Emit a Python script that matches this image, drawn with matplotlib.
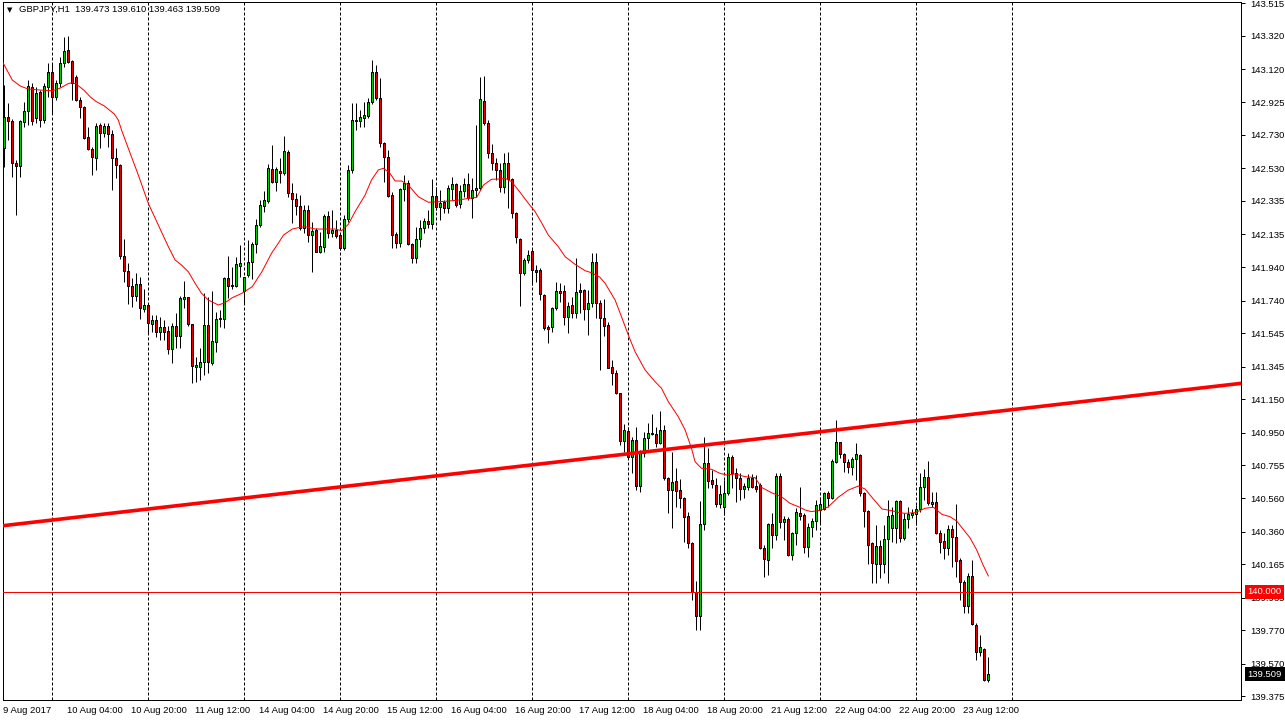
import numpy as np
import pandas as pd
import matplotlib
matplotlib.use('Agg')
import matplotlib.pyplot as plt
from matplotlib.transforms import ScaledTranslation

plt.rcParams['font.family'] = ['Liberation Sans', 'DejaVu Sans']

symbol = 'GBPJPY,H1'
first_bar = '2017-08-09 12:00'

# hourly OHLC
opens = [142.649, 142.834, 142.812, 142.561, 142.545, 142.806, 142.872, 143.015, 142.832, 142.984,
         142.818, 143.017, 143.103, 142.954, 143.037, 143.157, 143.236, 143.171, 143.073, 142.938,
         142.898, 142.719, 142.643, 142.589, 142.788, 142.739, 142.782, 142.733, 142.589, 142.548,
         142.006, 141.918, 141.827, 141.769, 141.839, 141.688, 141.713, 141.598, 141.624, 141.554,
         141.580, 141.560, 141.449, 141.588, 141.530, 141.749, 141.763, 141.598, 141.345, 141.345,
         141.371, 141.594, 141.365, 141.494, 141.628, 141.628, 141.876, 141.833, 141.829, 141.948,
         141.799, 141.893, 141.968, 142.076, 142.191, 142.306, 142.336, 142.524, 142.450, 142.515,
         142.500, 142.625, 142.380, 142.345, 142.306, 142.171, 142.281, 142.131, 142.161, 142.032,
         142.062, 142.245, 142.145, 142.161, 142.131, 142.056, 142.227, 142.520, 142.812, 142.814,
         142.832, 142.844, 142.924, 143.107, 142.952, 142.679, 142.599, 142.370, 142.137, 142.085,
         142.406, 142.440, 142.076, 141.996, 142.106, 142.175, 142.217, 142.195, 142.364, 142.297,
         142.330, 142.291, 142.404, 142.434, 142.315, 142.394, 142.434, 142.354, 142.400, 142.411,
         142.932, 142.798, 142.619, 142.563, 142.520, 142.416, 142.560, 142.464, 142.261, 142.106,
         141.903, 141.982, 142.036, 141.922, 141.922, 141.773, 141.580, 141.580, 141.694, 141.797,
         141.797, 141.644, 141.713, 141.667, 141.803, 141.803, 141.688, 141.723, 141.968, 141.723,
         141.634, 141.594, 141.341, 141.305, 141.186, 140.903, 140.961, 140.807, 140.905, 140.634,
         140.831, 140.917, 140.941, 140.943, 140.891, 140.965, 140.678, 140.608, 140.662, 140.608,
         140.559, 140.453, 140.290, 140.001, 139.857, 140.403, 140.768, 140.668, 140.638, 140.525,
         140.505, 140.589, 140.804, 140.708, 140.682, 140.612, 140.628, 140.682, 140.632, 140.638,
         140.264, 140.190, 140.403, 140.339, 140.694, 140.415, 140.435, 140.220, 140.350, 140.469,
         140.459, 140.266, 140.385, 140.423, 140.489, 140.495, 140.589, 140.559, 140.777, 140.893,
         140.822, 140.777, 140.747, 140.792, 140.818, 140.589, 140.483, 140.290, 140.166, 140.274,
         140.166, 140.316, 140.379, 140.379, 140.543, 140.320, 140.433, 140.457, 140.463, 140.493,
         140.624, 140.684, 140.523, 140.535, 140.350, 140.304, 140.260, 140.375, 140.326, 140.190,
         140.057, 139.915, 140.095, 139.802, 139.642, 139.657, 139.473]
highs = [143.027, 142.920, 142.824, 142.579, 142.818, 142.928, 143.057, 143.039, 143.017, 142.997,
         143.039, 143.157, 143.157, 143.057, 143.196, 143.316, 143.320, 143.177, 143.087, 142.957,
         142.902, 142.778, 142.659, 142.798, 142.802, 142.798, 142.802, 142.759, 142.649, 142.554,
         142.106, 141.962, 141.876, 141.903, 141.882, 141.807, 141.713, 141.654, 141.654, 141.644,
         141.624, 141.588, 141.604, 141.664, 141.767, 141.856, 141.763, 141.598, 141.405, 141.455,
         141.783, 141.763, 141.797, 141.673, 141.683, 141.882, 142.006, 141.942, 142.002, 142.072,
         141.882, 142.101, 142.091, 142.225, 142.340, 142.394, 142.554, 142.669, 142.539, 142.589,
         142.723, 142.639, 142.440, 142.380, 142.370, 142.310, 142.310, 142.211, 142.171, 142.151,
         142.255, 142.275, 142.281, 142.221, 142.142, 142.251, 142.549, 142.918, 142.918, 142.878,
         142.928, 142.952, 143.177, 143.147, 143.071, 142.689, 142.639, 142.390, 142.149, 142.411,
         142.490, 142.460, 142.082, 142.181, 142.221, 142.231, 142.281, 142.464, 142.420, 142.400,
         142.340, 142.430, 142.476, 142.440, 142.430, 142.470, 142.500, 142.470, 142.788, 143.077,
         143.081, 142.818, 142.675, 142.589, 142.560, 142.619, 142.629, 142.470, 142.271, 142.112,
         141.992, 142.042, 142.052, 141.952, 141.932, 141.777, 141.594, 141.703, 141.852, 141.843,
         141.833, 141.733, 141.763, 141.992, 141.843, 141.807, 141.803, 142.022, 142.022, 141.743,
         141.747, 141.614, 141.385, 141.325, 141.190, 141.002, 140.986, 140.927, 140.986, 140.847,
         140.957, 141.010, 141.060, 140.986, 141.080, 140.996, 140.688, 140.837, 140.738, 140.672,
         140.565, 140.479, 140.300, 140.065, 140.543, 140.927, 140.857, 140.728, 140.678, 140.638,
         140.668, 140.827, 140.817, 140.738, 140.708, 140.652, 140.702, 140.702, 140.698, 140.648,
         140.280, 140.409, 140.469, 140.708, 140.708, 140.453, 140.449, 140.359, 140.499, 140.624,
         140.469, 140.409, 140.439, 140.549, 140.568, 140.598, 140.602, 140.792, 141.026, 140.897,
         140.827, 140.792, 140.807, 140.887, 140.823, 140.598, 140.489, 140.300, 140.399, 140.310,
         140.399, 140.549, 140.508, 140.549, 140.549, 140.469, 140.508, 140.493, 140.519, 140.712,
         140.732, 140.781, 140.598, 140.598, 140.369, 140.350, 140.399, 140.399, 140.523, 140.200,
         140.071, 140.111, 140.190, 139.812, 139.742, 139.663, 139.610]
lows = [142.539, 142.699, 142.478, 142.251, 142.478, 142.778, 142.788, 142.788, 142.800, 142.778,
        142.800, 142.957, 142.860, 142.938, 143.017, 143.137, 143.159, 142.938, 142.932, 142.828,
        142.703, 142.639, 142.490, 142.520, 142.649, 142.719, 142.659, 142.400, 142.470, 141.986,
        141.852, 141.719, 141.700, 141.739, 141.630, 141.672, 141.544, 141.554, 141.524, 141.504,
        141.504, 141.421, 141.365, 141.455, 141.455, 141.694, 141.588, 141.246, 141.255, 141.265,
        141.295, 141.305, 141.355, 141.435, 141.583, 141.574, 141.753, 141.807, 141.823, 141.882,
        141.723, 141.882, 141.867, 142.022, 142.181, 142.271, 142.324, 142.440, 142.396, 142.440,
        142.490, 142.360, 142.201, 142.251, 142.161, 142.142, 142.091, 141.912, 142.032, 142.022,
        142.032, 142.112, 142.121, 142.112, 142.042, 142.042, 142.211, 142.500, 142.759, 142.778,
        142.778, 142.832, 142.912, 142.938, 142.659, 142.450, 142.360, 142.052, 142.052, 142.062,
        142.336, 142.072, 141.966, 141.962, 142.062, 142.142, 142.171, 142.165, 142.281, 142.221,
        142.261, 142.261, 142.340, 142.300, 142.291, 142.360, 142.340, 142.235, 142.360, 142.400,
        142.788, 142.589, 142.520, 142.460, 142.390, 142.380, 142.291, 142.231, 142.082, 141.707,
        141.893, 141.962, 141.833, 141.852, 141.743, 141.564, 141.488, 141.554, 141.683, 141.733,
        141.594, 141.544, 141.634, 141.634, 141.664, 141.624, 141.534, 141.703, 141.634, 141.325,
        141.528, 141.335, 141.236, 141.182, 140.877, 140.837, 140.804, 140.708, 140.608, 140.598,
        140.807, 140.853, 140.937, 140.867, 140.883, 140.668, 140.469, 140.383, 140.508, 140.499,
        140.300, 140.264, 139.951, 139.772, 139.772, 140.369, 140.618, 140.618, 140.508, 140.499,
        140.459, 140.578, 140.618, 140.538, 140.549, 140.559, 140.608, 140.618, 140.598, 140.254,
        140.090, 140.101, 140.260, 140.310, 140.379, 140.310, 140.214, 140.190, 140.280, 140.429,
        140.230, 140.210, 140.329, 140.369, 140.409, 140.489, 140.508, 140.553, 140.768, 140.798,
        140.718, 140.708, 140.698, 140.668, 140.572, 140.389, 140.166, 140.055, 140.051, 140.081,
        140.111, 140.051, 140.300, 140.290, 140.300, 140.310, 140.379, 140.441, 140.399, 140.479,
        140.549, 140.519, 140.508, 140.345, 140.230, 140.194, 140.220, 140.150, 140.090, 139.951,
        139.872, 139.872, 139.802, 139.593, 139.617, 139.469, 139.463]
closes = [142.834, 142.814, 142.561, 142.544, 142.812, 142.872, 143.021, 142.814, 142.978, 142.818,
          143.021, 143.103, 142.954, 143.037, 143.157, 143.232, 143.167, 143.037, 142.938, 142.898,
          142.709, 142.643, 142.595, 142.782, 142.739, 142.782, 142.733, 142.589, 142.548, 142.006,
          141.918, 141.827, 141.769, 141.839, 141.694, 141.713, 141.604, 141.624, 141.554, 141.580,
          141.554, 141.449, 141.588, 141.530, 141.753, 141.763, 141.598, 141.351, 141.353, 141.371,
          141.594, 141.371, 141.498, 141.628, 141.634, 141.876, 141.829, 141.829, 141.958, 141.962,
          141.882, 141.968, 142.076, 142.191, 142.310, 142.340, 142.530, 142.450, 142.524, 142.500,
          142.631, 142.380, 142.345, 142.306, 142.171, 142.281, 142.131, 142.155, 142.032, 142.066,
          142.245, 142.145, 142.161, 142.127, 142.056, 142.227, 142.520, 142.818, 142.818, 142.838,
          142.848, 142.924, 143.103, 142.952, 142.679, 142.599, 142.366, 142.131, 142.085, 142.406,
          142.440, 142.076, 141.996, 142.106, 142.175, 142.217, 142.195, 142.364, 142.300, 142.324,
          142.291, 142.411, 142.434, 142.310, 142.394, 142.434, 142.354, 142.400, 142.414, 142.942,
          142.798, 142.619, 142.563, 142.520, 142.416, 142.560, 142.464, 142.261, 142.118, 141.903,
          141.982, 142.012, 141.922, 141.912, 141.777, 141.574, 141.570, 141.694, 141.797, 141.787,
          141.644, 141.707, 141.667, 141.789, 141.793, 141.688, 141.723, 141.968, 141.723, 141.634,
          141.588, 141.339, 141.305, 141.186, 140.903, 140.965, 140.807, 140.905, 140.634, 140.833,
          140.917, 140.947, 140.947, 140.891, 140.965, 140.678, 140.608, 140.654, 140.604, 140.559,
          140.449, 140.290, 140.001, 139.857, 140.403, 140.768, 140.664, 140.642, 140.525, 140.584,
          140.589, 140.804, 140.712, 140.678, 140.612, 140.632, 140.682, 140.624, 140.614, 140.260,
          140.194, 140.403, 140.339, 140.694, 140.415, 140.435, 140.220, 140.350, 140.477, 140.453,
          140.266, 140.389, 140.423, 140.519, 140.523, 140.589, 140.559, 140.781, 140.893, 140.822,
          140.774, 140.747, 140.792, 140.822, 140.589, 140.485, 140.280, 140.170, 140.274, 140.166,
          140.316, 140.453, 140.459, 140.543, 140.320, 140.435, 140.463, 140.469, 140.493, 140.624,
          140.684, 140.529, 140.535, 140.350, 140.300, 140.260, 140.375, 140.326, 140.184, 140.061,
          139.915, 140.095, 139.806, 139.642, 139.669, 139.473, 139.509]

# moving average as drawn on the chart (bar index, price)
ma_pos = [-0.3, 2, 4, 6, 9, 12, 14, 16, 17, 18, 20, 21.5, 23, 25, 27.5, 28.5, 29.3, 31, 33.5, 36,
          38.5, 41, 42.7, 44.3, 46, 47.7, 49.3, 51, 53.5, 55.2, 57, 59.4, 62, 64.4, 66.8, 68.5, 69.8,
          72, 73.9, 75.2, 77.7, 80.2, 82.7, 84.3, 86, 87.7, 90.2, 91.8, 93.5, 94.8, 96.4, 97.7, 99.3,
          101, 103.5, 106, 108.5, 111, 113.5, 116, 118.1, 119.8, 121.8, 124, 125.2, 126.8, 128.5, 131,
          132.7, 134.4, 136, 138.5, 140.2, 142.7, 145.2, 146.8, 148.9, 150.2, 152.7, 154.3, 156, 157.7,
          160.2, 162.7, 164.3, 166, 168.5, 170.2, 171.8, 172.7, 174.3, 176.8, 178.9, 180.6, 182.7,
          185.2, 187.7, 189.3, 191.8, 194.3, 196.4, 198.9, 200.2, 201.8, 204.3, 206, 208.5, 211, 213.5,
          215.2, 216.9, 219.4, 221.8, 223.9, 225.2, 227.7, 230.2, 232.3, 234.4, 236.4, 238.1, 240.2,
          241.4, 243.1, 244.7, 246]
ma_val = [143.159, 143.057, 143.021, 143.003, 142.997, 142.993, 143.009, 143.036, 143.041, 143.033,
          142.994, 142.956, 142.928, 142.902, 142.854, 142.818, 142.759, 142.649, 142.490, 142.320,
          142.191, 142.062, 141.982, 141.952, 141.912, 141.843, 141.783, 141.743, 141.713, 141.727,
          141.757, 141.783, 141.823, 141.912, 142.022, 142.082, 142.131, 142.167, 142.177, 142.181,
          142.167, 142.167, 142.167, 142.157, 142.195, 142.271, 142.370, 142.460, 142.520, 142.530,
          142.500, 142.454, 142.454, 142.430, 142.360, 142.327, 142.330, 142.334, 142.340, 142.350,
          142.356, 142.430, 142.464, 142.466, 142.470, 142.450, 142.400, 142.321, 142.271, 142.201,
          142.131, 142.062, 142.002, 141.956, 141.918, 141.906, 141.879, 141.843, 141.743, 141.643,
          141.534, 141.434, 141.325, 141.255, 141.216, 141.136, 141.046, 140.967, 140.857, 140.777,
          140.738, 140.732, 140.708, 140.698, 140.704, 140.688, 140.682, 140.624, 140.592, 140.568,
          140.529, 140.505, 140.489, 140.479, 140.489, 140.508, 140.565, 140.608, 140.632, 140.614,
          140.565, 140.495, 140.485, 140.473, 140.469, 140.473, 140.499, 140.505, 140.463, 140.449,
          140.423, 140.359, 140.324, 140.250, 140.160, 140.095]

trend_bars = [0, 300]
trend_prices = [140.396, 141.220]
level = 140.000

price_ticks = [143.515, 143.320, 143.120, 142.925, 142.730, 142.530, 142.335, 142.135, 141.940,
               141.740, 141.545, 141.345, 141.150, 140.950, 140.755, 140.560, 140.360, 140.165,
               139.965, 139.770, 139.570, 139.375]

n = len(closes)
hours = pd.date_range(first_bar, periods=24 * 30, freq='h')
times = hours[hours.dayofweek < 5][:n + 8]

W, H = 1285, 722
px = 0.72  # one pixel in points
fs = 6.8
fig = plt.figure(figsize=(W / 100, H / 100), dpi=100)
ax = fig.add_axes([2.7 / W, 22 / H, (1241 - 2.7) / W, (700 - 2) / H])
ax.set_xlim(-0.4, 309.175)
ax.set_ylim(139.354, 143.523)

# day separators
for i, t in enumerate(times):
    if t.hour == 0:
        ax.axvline(i, color='black', lw=px, ls=(0, (3, 2)), zorder=1)

o = np.array(opens)
c = np.array(closes)
x = np.arange(n)
colors = np.where(c >= o, '#00cc00', '#e00000')
ax.vlines(x, lows, highs, colors='black', lw=px, zorder=2)
ax.bar(x, np.abs(c - o), bottom=np.minimum(o, c), width=0.5, color=colors,
       edgecolor='black', linewidth=px, zorder=3)

ax.plot(ma_pos, ma_val, color='red', lw=px, zorder=4)
ax.axline((trend_bars[0], trend_prices[0]), (trend_bars[1], trend_prices[1]),
          color='red', lw=2.6, zorder=4)
ax.axhline(level, color='red', lw=px, zorder=4)

for s in ax.spines.values():
    s.set_linewidth(px)

ax.yaxis.tick_right()
ax.set_yticks(price_ticks)
ax.set_yticklabels([f'{v:.3f}' for v in price_ticks])
ax.tick_params(axis='y', direction='out', length=3, width=px, pad=3.5, labelsize=fs)

label_idx = list(range(0, n, 16))
labels = []
for i in label_idx:
    t = times[i]
    labels.append(f'{t.day} {t:%b %Y}' if i == 0 else f'{t.day} {t:%b %H:%M}')
ax.set_xticks(label_idx)
ax.set_xticklabels(labels, ha='left')
ax.tick_params(axis='x', length=0, pad=4.5, labelsize=fs)
shift = ScaledTranslation(-1 / 100, 0, fig.dpi_scale_trans)
for lb in ax.get_xticklabels():
    lb.set_transform(lb.get_transform() + shift)

# price boxes on the scale
box_tr = ax.get_yaxis_transform() + ScaledTranslation(6.5 / 100, 0, fig.dpi_scale_trans)
ax.text(1.0, level, f'{level:.3f}', transform=box_tr, ha='left', va='center', fontsize=fs,
        color='white', zorder=6, clip_on=False,
        bbox=dict(boxstyle='square,pad=0.3', facecolor='#ff0000', edgecolor='none'))
ax.text(1.0, closes[-1], f'{closes[-1]:.3f}', transform=box_tr, ha='left', va='center',
        fontsize=fs, color='white', zorder=6, clip_on=False,
        bbox=dict(boxstyle='square,pad=0.3', facecolor='black', edgecolor='none'))

header = f'{symbol}  {opens[-1]:.3f} {highs[-1]:.3f} {lows[-1]:.3f} {closes[-1]:.3f}'
fig.text(19 / W, 1 - 9 / H, header, va='center', ha='left', fontsize=fs)
fig.text(10 / W, 1 - 10 / H, '\u25bc', va='center', ha='center', fontsize=5,
         family='DejaVu Sans')

fig.savefig('out.png', dpi=100)
